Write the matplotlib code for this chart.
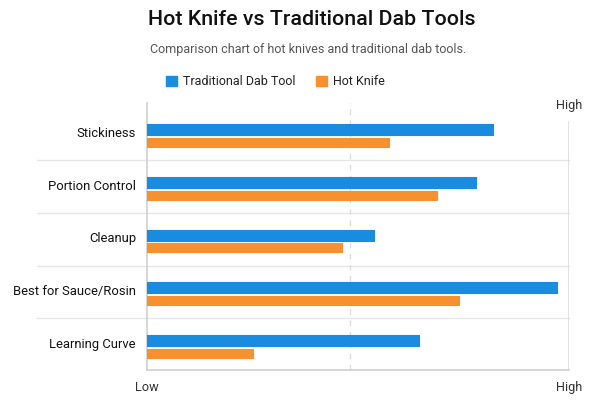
import numpy as np
import matplotlib.pyplot as plt
from matplotlib.patches import Patch

plt.rcParams['font.family'] = ['Roboto', 'DejaVu Sans']

categories = ['Stickiness', 'Portion Control', 'Cleanup', 'Best for Sauce/Rosin', 'Learning Curve']
dab_tool = [8.2, 7.8, 5.37, 9.71, 6.45]
hot_knife = [5.73, 6.87, 4.62, 7.39, 2.51]
mid_line = 4.81
x_ticks = [0, 10]
x_labels = ['Low', 'High']

blue = '#1a8ce0'
orange = '#f7902f'
grid = '#e6e6e6'

fig = plt.figure(figsize=(6, 4), dpi=100)
ax = fig.add_axes([0.245, 0.075, 0.7033, 0.6675])

y = np.arange(len(categories))
ax.barh(y - 0.08, dab_tool, height=0.21, color=blue, edgecolor=blue,
        linewidth=0.8, joinstyle='round', zorder=3)
ax.barh(y + 0.16, hot_knife, height=0.17, color=orange, edgecolor=orange,
        linewidth=0.8, joinstyle='round', zorder=3)

ax.set_xlim(0, 10)
ax.set_ylim(4.48, -0.59)

# separators between categories, running into the label area
for b in np.arange(0.5, len(categories) - 0.5, 1):
    ax.axhline(b, xmin=-0.26, xmax=1, color=grid, lw=1, clip_on=False, zorder=1)

ax.axvline(mid_line, color='#dddddd', lw=1, ls=(0, (4, 4)), zorder=1)
ax.axvline(10, ymin=0, ymax=0.93, color='#dcdcdc', lw=1.2, zorder=1)

for s in ['top', 'right']:
    ax.spines[s].set_visible(False)
for s in ['left', 'bottom']:
    ax.spines[s].set_color('#cfcfcf')
    ax.spines[s].set_linewidth(1.2)

ax.set_yticks(y - 0.04)
ax.set_yticklabels(categories, fontsize=9.4, color='#111111')
ax.tick_params(axis='y', length=0, pad=8)
ax.set_xticks(x_ticks)
ax.set_xticklabels(x_labels, fontsize=9.2, color='#333333')
ax.tick_params(axis='x', length=0, pad=8)

ax.text(10, -0.55, 'High', ha='center', va='center', fontsize=9.2, color='#333333')

fig.text(0.52, 0.952, 'Hot Knife vs Traditional Dab Tools', ha='center', va='center',
         fontsize=15.4, fontweight='medium', color='#111111')
fig.text(0.513, 0.875, 'Comparison chart of hot knives and traditional dab tools.',
         ha='center', va='center', fontsize=9, color='#555555')

handles = [Patch(facecolor=blue, edgecolor=blue), Patch(facecolor=orange, edgecolor=orange)]
fig.legend(handles, ['Traditional Dab Tool', 'Hot Knife'], loc='center',
           bbox_to_anchor=(0.459, 0.796), ncol=2, frameon=False, fontsize=9,
           handlelength=0.85, handleheight=0.85, handletextpad=0.45, columnspacing=1.7,
           labelcolor='#222222')

fig.savefig('out.png', dpi=100, facecolor='white')
